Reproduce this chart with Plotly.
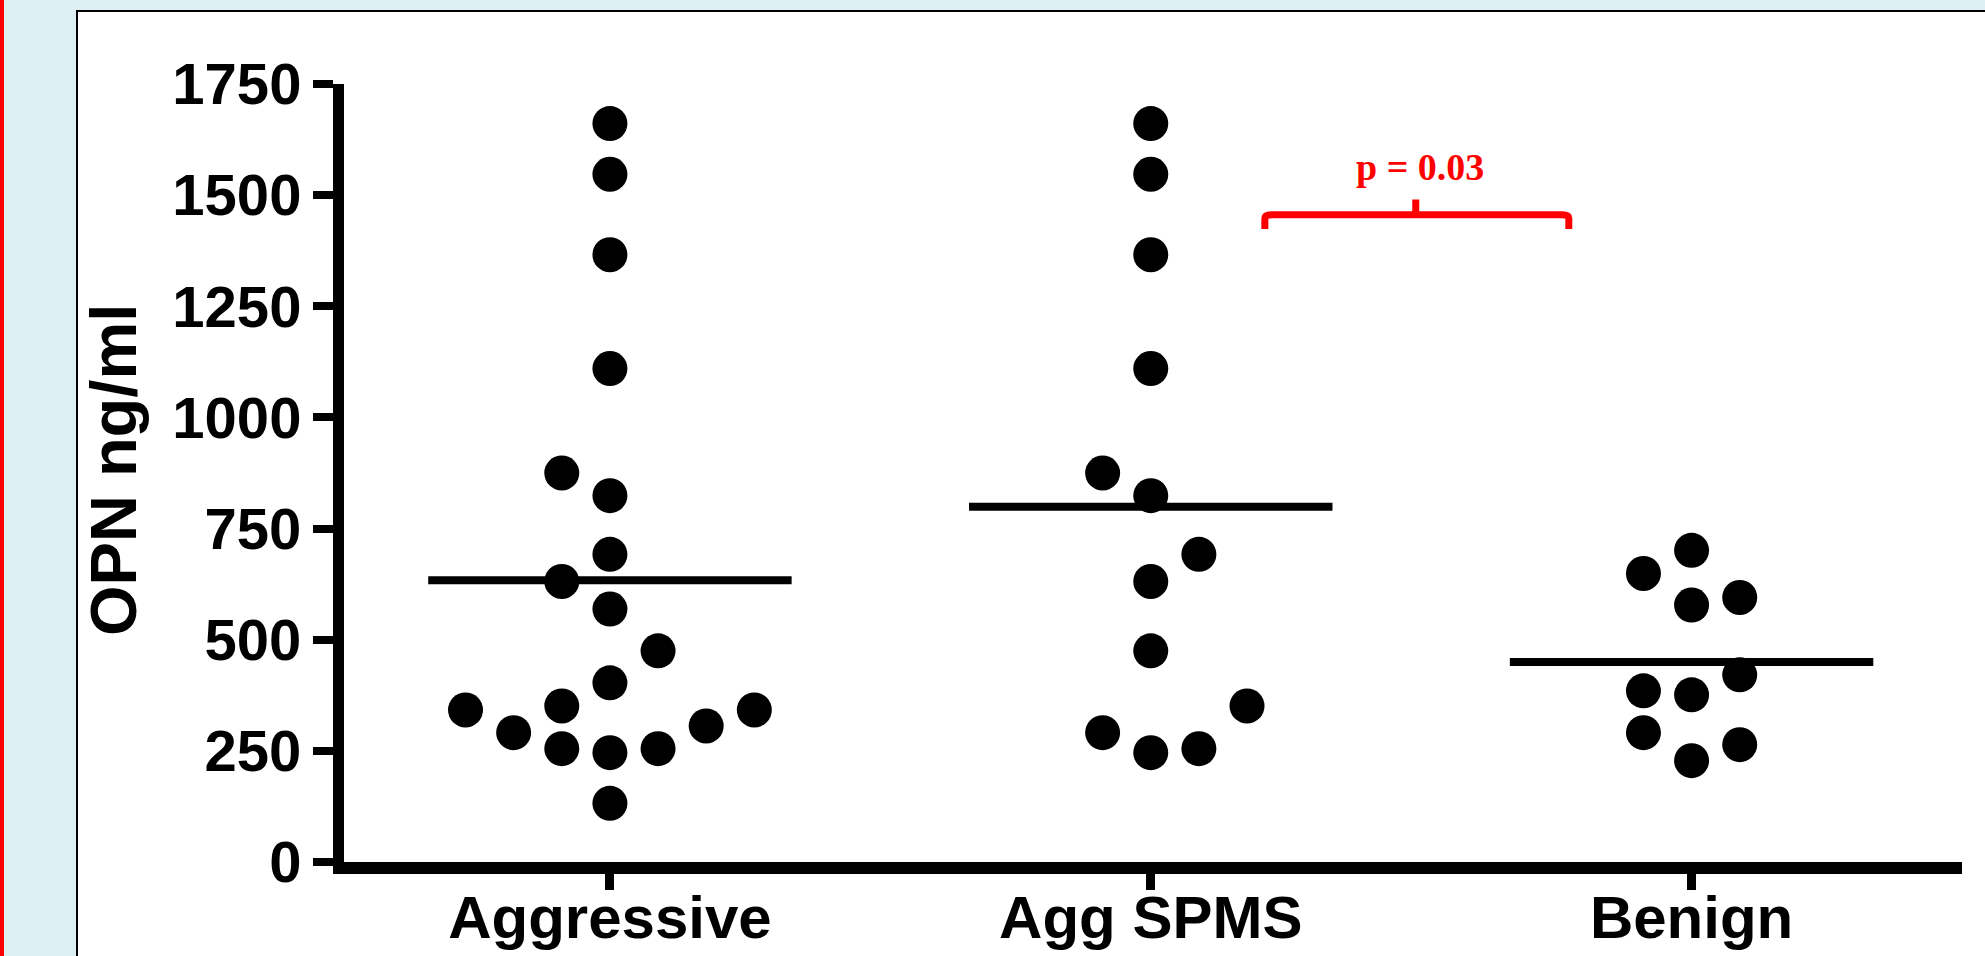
import plotly.graph_objects as go

# ---------------- data ----------------
categories = ["Aggressive", "Agg SPMS", "Benign"]

aggressive_values = [1661, 1547, 1366, 1110, 875, 824, 692, 631, 569, 475,
                     403, 342, 351, 342, 291, 306, 255, 246, 255, 132]
aggressive_slots = [0, 0, 0, 0, -1, 0, 0, -1, 0, 1,
                    0, -3, -1, 3, -2, 2, -1, 0, 1, 0]

aggspms_values = [1661, 1547, 1366, 1110, 875, 824, 692, 631, 475, 351, 291, 246, 255]
aggspms_slots = [0, 0, 0, 0, -1, 0, 1, 0, 0, 2, -1, 0, 1]

benign_values = [701, 649, 578, 595, 421, 385, 376, 291, 264, 228]
benign_slots = [0, -1, 0, 1, 1, -1, 0, -1, 1, 0]

group_means = [634, 799, 450]

y_tick_values = [0, 250, 500, 750, 1000, 1250, 1500, 1750]
p_label = "p = 0.03"

# ---------------- layout constants ----------------
W, H = 1985, 956
L, R, T, B = 344, 1962, 84, 862
SLOT = 0.089
MEAN_HALF = 0.336
XMIN = -0.5 + (L - 339.5) / 540.8


def px_x(p):
    return (p - L) / (R - L)


def px_y(p):
    return (B - p) / (B - T)


fig = go.Figure()

groups = [aggressive_values, aggspms_values, benign_values]
slots = [aggressive_slots, aggspms_slots, benign_slots]
for gi, (vals, sl) in enumerate(zip(groups, slots)):
    fig.add_trace(go.Scatter(
        x=[gi + s * SLOT for s in sl], y=vals, mode="markers",
        marker=dict(size=35, color="black", line=dict(width=0)),
        showlegend=False, hoverinfo="y"))
    fig.add_trace(go.Scatter(
        x=[gi - MEAN_HALF, gi + MEAN_HALF], y=[group_means[gi]] * 2,
        mode="lines", line=dict(color="black", width=8),
        showlegend=False, hoverinfo="skip"))

# bracket (data coordinates)
bx0, bx1, bxc = 1.211, 1.773, 1.490
by_end, by_h, by_top = 1424, 1456, 1490
bracket_path = (f"M{bx0},{by_end} L{bx0},{by_h - 8} Q{bx0},{by_h} {bx0 + 0.012},{by_h} "
                f"L{bx1 - 0.012},{by_h} Q{bx1},{by_h} {bx1},{by_h - 8} L{bx1},{by_end} "
                f"M{bxc},{by_h} L{bxc},{by_top}")

shapes = [
    # white frame
    dict(type="rect", xref="paper", yref="paper",
         x0=px_x(77), x1=px_x(W + 10), y0=px_y(H + 10), y1=px_y(11),
         fillcolor="white", line=dict(color="black", width=2), layer="below"),
    # red bar at left edge
    dict(type="rect", xref="paper", yref="paper",
         x0=px_x(-2), x1=px_x(4), y0=px_y(H + 10), y1=px_y(-10),
         fillcolor="#ff0000", line=dict(width=0), layer="below"),
    dict(type="path", xref="x", yref="y", path=bracket_path,
         line=dict(color="#ff0000", width=7)),
]

annotations = [
    dict(text=p_label, x=1.497, y=1563, xref="x", yref="y",
         xanchor="center", yanchor="middle", showarrow=False,
         font=dict(family="Liberation Serif", size=38, color="#ff0000", weight="bold")),
    dict(text="OPN ng/ml", x=px_x(113), y=px_y(470), xref="paper", yref="paper",
         xanchor="center", yanchor="middle", showarrow=False, textangle=-90,
         font=dict(family="Liberation Sans", size=65, color="black", weight="bold")),
]

fig.update_layout(
    width=W, height=H,
    margin=dict(l=L, r=W - R, t=T, b=H - B, pad=0, autoexpand=False),
    paper_bgcolor="#ddeff2",
    plot_bgcolor="white",
    shapes=shapes,
    annotations=annotations,
    showlegend=False,
)

fig.update_xaxes(
    range=[XMIN, 2.5], tickmode="array", tickvals=[0, 1, 2], ticktext=categories,
    showline=True, linewidth=12, linecolor="black",
    ticks="outside", ticklen=16, tickwidth=9, tickcolor="black",
    ticklabelstandoff=-24,
    tickfont=dict(family="Liberation Sans", size=60, color="black", weight="bold"),
    showgrid=False, zeroline=False, fixedrange=True, automargin=False,
)
fig.update_yaxes(
    range=[0, 1750], tickmode="array", tickvals=y_tick_values,
    showline=True, linewidth=11, linecolor="black",
    ticks="outside", ticklen=20, tickwidth=8, tickcolor="black",
    tickfont=dict(family="Liberation Sans", size=58, color="black", weight="bold"),
    showgrid=False, zeroline=False, fixedrange=True, automargin=False,
)

fig.write_html("out.html", config={"displayModeBar": False})
